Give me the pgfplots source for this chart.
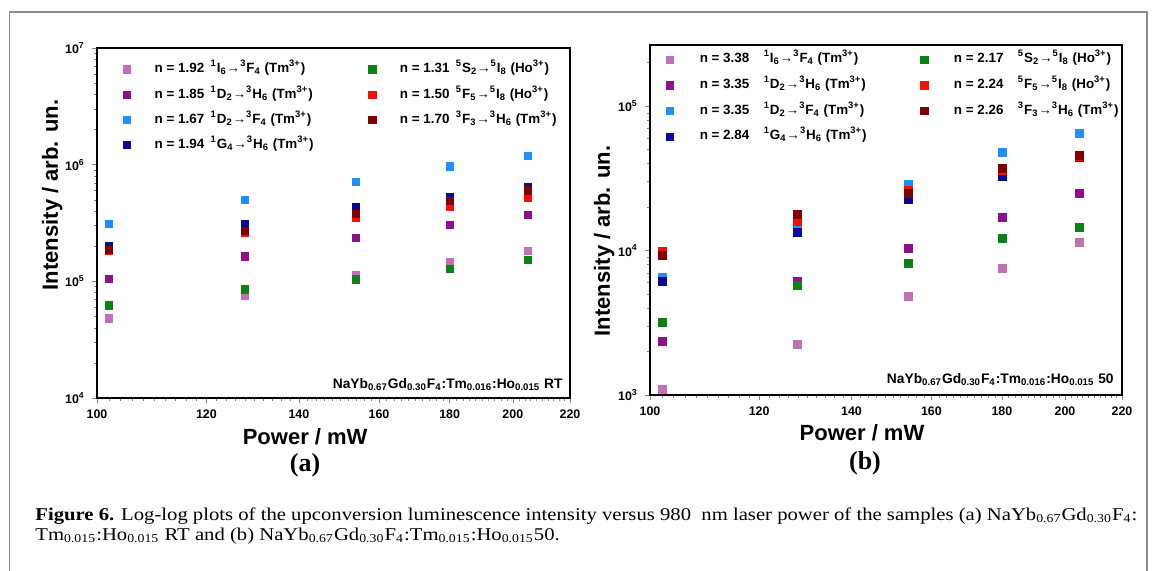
\documentclass[border=0pt]{standalone}
\usepackage{pgfplots}
\pgfplotsset{compat=1.18}
\usepackage{fontspec}
\setmainfont{Liberation Serif}
\setsansfont{Liberation Sans}
\usepackage{graphicx}

\definecolor{cpink}{RGB}{192,112,180}
\definecolor{cpurple}{RGB}{140,16,140}
\definecolor{clblue}{RGB}{30,144,255}
\definecolor{cdblue}{RGB}{10,10,145}
\definecolor{cgreen}{RGB}{10,130,20}
\definecolor{cred}{RGB}{255,10,10}
\definecolor{cdred}{RGB}{130,0,0}

\newcommand\arr{→}
\newcommand\Tm{(Tm\textsuperscript{3+})}
\newcommand\Ho{(Ho\textsuperscript{3+})}
\newcommand\lv[3]{\textsuperscript{#1}#2\textsubscript{#3}}
\newcommand\entA[2]{\makebox[100pt][l]{\makebox[28pt][l]{n = #1}#2}}
\newcommand\entB[2]{\makebox[103pt][l]{\makebox[32pt][l]{n = #1}#2}}
\newsavebox\capA
\newsavebox\capB

\pgfplotsset{
  every axis/.append style={
    scale only axis, xmode=log, ymode=log, xmin=100, xmax=220,
    height=175pt,
    xtick={100,120,140,160,180,200,220},
    xticklabels={100,120,140,160,180,200,220},
    minor xtick={102,104,...,218},
    tick pos=left, tick align=outside,
    major tick length=2.6pt, minor tick length=1.4pt,
    axis line style={line width=0.6pt},
    /pgf/number format/assume math mode=true,
    tick label style={font=\sffamily\bfseries\fontsize{6.2}{7}\selectfont},
    label style={font=\sffamily\bfseries\fontsize{11}{13}\selectfont},
    xlabel={Power / mW}, ylabel={Intensity / arb. un.},
    legend cell align=left,
  },
  every axis plot/.append style={only marks, mark=square*},
}

\begin{document}
\sbox\capA{\fontsize{9}{11}\selectfont\textbf{Figure 6.} Log-log plots of the upconversion luminescence intensity versus 980~~nm laser power of the samples (a) NaYb\textsubscript{0.67}Gd\textsubscript{0.30}F\textsubscript{4}:}%
\sbox\capB{\fontsize{9}{11}\selectfont Tm\textsubscript{0.015}:Ho\textsubscript{0.015} RT and (b) NaYb\textsubscript{0.67}Gd\textsubscript{0.30}F\textsubscript{4}:Tm\textsubscript{0.015}:Ho\textsubscript{0.015}50.}%
\pgfmathsetmacro\capscale{551/\the\wd\capA}%
\begin{tikzpicture}
\path[use as bounding box] (0,0) rectangle (577.5pt,-285.5pt);
\draw[black!45, line width=0.7pt] (4.8pt,-285.5pt) -- (4.8pt,-6pt) -- (573.5pt,-6pt) -- (573.5pt,-285.5pt);

% ---------------- (a)
\begin{axis}[
  at={(48.5pt,-199pt)}, anchor=south west, width=236.5pt,
  ymin=1e4, ymax=1e7,
  ytick={1e4,1e5,1e6,1e7},
  yticklabels={10\textsuperscript{4},10\textsuperscript{5},10\textsuperscript{6},10\textsuperscript{7}},
  minor ytick={2e4,3e4,4e4,5e4,6e4,7e4,8e4,9e4,2e5,3e5,4e5,5e5,6e5,7e5,8e5,9e5,2e6,3e6,4e6,5e6,6e6,7e6,8e6,9e6},
  xlabel style={at={(axis description cs:0.44,-0.111)}, anchor=center},
  ylabel style={at={(axis description cs:-0.095,0.58)}, anchor=center},
  legend style={at={(axis description cs:0.056,0.975)}, anchor=north west, draw=none, fill=none,
    inner sep=0pt, outer sep=0pt, legend columns=2, row sep=0pt,
    nodes={inner sep=0pt, text height=8pt, text depth=4.65pt, font=\sffamily\bfseries\fontsize{6.7}{8}\selectfont},
    /tikz/every odd column/.append style={column sep=12pt},
    /tikz/every even column/.append style={column sep=7pt}},
]
\addplot[color=cpink, mark size=1.85pt, forget plot] coordinates {(102,4.8e4)(128,7.6e4)(154,1.14e5)(180,1.47e5)(205,1.82e5)};
\addplot[color=cpurple, mark size=1.85pt, forget plot] coordinates {(102,1.05e5)(128,1.64e5)(154,2.37e5)(180,3.05e5)(205,3.7e5)};
\addplot[color=clblue, mark size=1.85pt, forget plot] coordinates {(102,3.1e5)(128,5.0e5)(154,7.1e5)(180,9.7e5)(205,1.19e6)};
\addplot[color=cdblue, mark size=1.85pt, forget plot] coordinates {(102,2.0e5)(128,3.1e5)(154,4.3e5)(180,5.3e5)(205,6.4e5)};
\addplot[color=cgreen, mark size=1.85pt, forget plot] coordinates {(102,6.2e4)(128,8.5e4)(154,1.04e5)(180,1.28e5)(205,1.52e5)};
\addplot[color=cred, mark size=1.85pt, forget plot] coordinates {(102,1.82e5)(128,2.6e5)(154,3.5e5)(180,4.4e5)(205,5.2e5)};
\addplot[color=cdred, mark size=1.85pt, forget plot] coordinates {(102,1.85e5)(128,2.7e5)(154,3.8e5)(180,4.9e5)(205,6.0e5)};
\addlegendimage{color=cpink, mark size=1.8pt}\addlegendentry{\entA{1.92}{\lv{1}{I}{6}\arr\lv{3}{F}{4} \Tm}}
\addlegendimage{color=cgreen, mark size=1.8pt}\addlegendentry{\entA{1.31}{\lv{5}{S}{2}\arr\lv{5}{I}{8} \Ho}}
\addlegendimage{color=cpurple, mark size=1.8pt}\addlegendentry{\entA{1.85}{\lv{1}{D}{2}\arr\lv{3}{H}{6} \Tm}}
\addlegendimage{color=cred, mark size=1.8pt}\addlegendentry{\entA{1.50}{\lv{5}{F}{5}\arr\lv{5}{I}{8} \Ho}}
\addlegendimage{color=clblue, mark size=1.8pt}\addlegendentry{\entA{1.67}{\lv{1}{D}{2}\arr\lv{3}{F}{4} \Tm}}
\addlegendimage{color=cdred, mark size=1.8pt}\addlegendentry{\entA{1.70}{\lv{3}{F}{3}\arr\lv{3}{H}{6} \Tm}}
\addlegendimage{color=cdblue, mark size=1.8pt}\addlegendentry{\entA{1.94}{\lv{1}{G}{4}\arr\lv{3}{H}{6} \Tm}}
\node[anchor=base east, font=\sffamily\bfseries\fontsize{6.9}{8}\selectfont, inner sep=0pt] at (rel axis cs:0.985,0.026)
  {NaYb\textsubscript{0.67}Gd\textsubscript{0.30}F\textsubscript{4}:Tm\textsubscript{0.016}:Ho\textsubscript{0.015} RT};
\end{axis}

% ---------------- (b)
\begin{axis}[
  at={(325pt,-197.5pt)}, anchor=south west, width=236pt,
  ymin=1e3, ymax=2.65e5,
  ytick={1e3,1e4,1e5},
  yticklabels={10\textsuperscript{3},10\textsuperscript{4},10\textsuperscript{5}},
  minor ytick={2e3,3e3,4e3,5e3,6e3,7e3,8e3,9e3,2e4,3e4,4e4,5e4,6e4,7e4,8e4,9e4,2e5},
  xlabel style={at={(axis description cs:0.449,-0.109)}, anchor=center},
  ylabel style={at={(axis description cs:-0.097,0.44)}, anchor=center},
  legend style={at={(axis description cs:0.035,0.995)}, anchor=north west, draw=none, fill=none,
    inner sep=0pt, outer sep=0pt, legend columns=2, row sep=0pt,
    nodes={inner sep=0pt, text height=8pt, text depth=4.85pt, font=\sffamily\bfseries\fontsize{6.7}{8}\selectfont},
    /tikz/every odd column/.append style={column sep=13pt},
    /tikz/every even column/.append style={column sep=7.5pt}},
]
\addplot[color=cpink, mark size=2pt, forget plot] coordinates {(102,1.09e3)(128,2.25e3)(154,4.8e3)(180,7.5e3)(205,1.13e4)};
\addplot[color=cpurple, mark size=2pt, forget plot] coordinates {(102,2.35e3)(128,6.1e3)(154,1.03e4)(180,1.69e4)(205,2.5e4)};
\addplot[color=clblue, mark size=2pt, forget plot] coordinates {(102,6.5e3)(128,1.45e4)(154,2.88e4)(180,4.8e4)(205,6.5e4)};
\addplot[color=cdblue, mark size=2pt, forget plot] coordinates {(102,6.1e3)(128,1.33e4)(154,2.27e4)(180,3.27e4)(205,4.4e4)};
\addplot[color=cgreen, mark size=2pt, forget plot] coordinates {(102,3.2e3)(128,5.7e3)(154,8.2e3)(180,1.22e4)(205,1.44e4)};
\addplot[color=cred, mark size=2pt, forget plot] coordinates {(102,9.9e3)(128,1.6e4)(154,2.6e4)(180,3.6e4)(205,4.5e4)};
\addplot[color=cdred, mark size=2pt, forget plot] coordinates {(102,9.3e3)(128,1.77e4)(154,2.48e4)(180,3.7e4)(205,4.57e4)};
\addlegendimage{color=cpink, mark size=1.8pt}\addlegendentry{\entB{3.38}{\lv{1}{I}{6}\arr\lv{3}{F}{4} \Tm}}
\addlegendimage{color=cgreen, mark size=1.8pt}\addlegendentry{\entB{2.17}{\lv{5}{S}{2}\arr\lv{5}{I}{8} \Ho}}
\addlegendimage{color=cpurple, mark size=1.8pt}\addlegendentry{\entB{3.35}{\lv{1}{D}{2}\arr\lv{3}{H}{6} \Tm}}
\addlegendimage{color=cred, mark size=1.8pt}\addlegendentry{\entB{2.24}{\lv{5}{F}{5}\arr\lv{5}{I}{8} \Ho}}
\addlegendimage{color=clblue, mark size=1.8pt}\addlegendentry{\entB{3.35}{\lv{1}{D}{2}\arr\lv{3}{F}{4} \Tm}}
\addlegendimage{color=cdred, mark size=1.8pt}\addlegendentry{\entB{2.26}{\lv{3}{F}{3}\arr\lv{3}{H}{6} \Tm}}
\addlegendimage{color=cdblue, mark size=1.8pt}\addlegendentry{\entB{2.84}{\lv{1}{G}{4}\arr\lv{3}{H}{6} \Tm}}
\node[anchor=base east, font=\sffamily\bfseries\fontsize{6.9}{8}\selectfont, inner sep=0pt] at (rel axis cs:0.983,0.034)
  {NaYb\textsubscript{0.67}Gd\textsubscript{0.30}F\textsubscript{4}:Tm\textsubscript{0.016}:Ho\textsubscript{0.015} 50};
\end{axis}

\node[font=\bfseries\fontsize{13}{15}\selectfont] at (152.5pt,-232.5pt) {(a)};
\node[font=\bfseries\fontsize{13}{15}\selectfont] at (432.5pt,-231.5pt) {(b)};

\node[anchor=base west, inner sep=0pt] at (17.5pt,-260pt) {\scalebox{\capscale}[1]{\usebox\capA}};
\node[anchor=base west, inner sep=0pt] at (17.5pt,-270pt) {\scalebox{\capscale}[1]{\usebox\capB}};
\end{tikzpicture}
\end{document}
